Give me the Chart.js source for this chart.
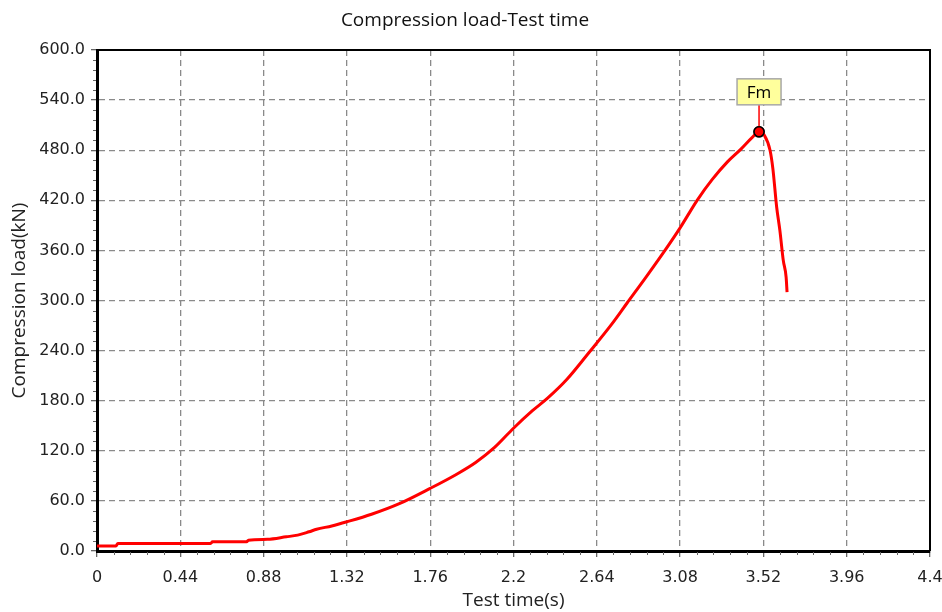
<!DOCTYPE html>
<html>
<head>
<meta charset="utf-8">
<script src="https://cdn.jsdelivr.net/npm/chart.js@4.4.0/dist/chart.umd.min.js"></script>
<style>
  body { margin: 0; background: #fff; }
  canvas { display: block; }
</style>
</head>
<body>
<canvas id="graph" width="942" height="612"></canvas>
<script>
// data
const testTime = [0, 0.1, 0.11, 0.6, 0.61, 0.79, 0.8, 0.9, 1.0, 1.06, 1.12, 1.16, 1.24, 1.32, 1.45, 1.6, 1.76, 1.9, 2.0, 2.1, 2.2, 2.3, 2.38, 2.48, 2.6, 2.72, 2.8, 2.9, 3.0, 3.08, 3.17, 3.25, 3.33, 3.4, 3.46, 3.497, 3.525, 3.555, 3.57, 3.59, 3.607, 3.625, 3.64, 3.645];
const compLoad = [6, 6, 9, 9, 11, 11, 13, 14, 17, 19, 23, 26, 30, 35, 44, 57, 75, 92, 106, 124, 147, 168, 183, 205, 238, 272, 297, 328, 360, 387, 420, 445, 466, 481, 495, 502, 498, 480, 458, 412, 384, 348, 328, 310];
const peakTime = 3.497;
const peakLoad = 502;
const peakLabel = 'Fm';

const xTicks = [0, 0.44, 0.88, 1.32, 1.76, 2.2, 2.64, 3.08, 3.52, 3.96, 4.4];
const xTickLabels = ['0', '0.44', '0.88', '1.32', '1.76', '2.2', '2.64', '3.08', '3.52', '3.96', '4.4'];
const yTicks = [0, 60, 120, 180, 240, 300, 360, 420, 480, 540, 600];
const yTickLabels = ['0.0', '60.0', '120.0', '180.0', '240.0', '300.0', '360.0', '420.0', '480.0', '540.0', '600.0'];

const FONT = 'DejaVu Sans';
const TITLE_FONT = 'Open Sans';

// top/right frame and the small ticks between labels
const framePlugin = {
    id: 'frame',
    afterDraw(chart) {
        const ctx = chart.ctx;
        const a = chart.chartArea;
        const xs = chart.scales.x;
        const ys = chart.scales.y;
        ctx.save();
        ctx.strokeStyle = '#000';
        ctx.lineWidth = 2;
        ctx.beginPath();
        ctx.moveTo(a.left, a.top);
        ctx.lineTo(a.right, a.top);
        ctx.lineTo(a.right, a.bottom);
        ctx.stroke();

        ctx.strokeStyle = '#666';
        ctx.lineWidth = 1;
        ctx.beginPath();
        for (let i = 0; i < xTicks.length - 1; i++) {
            for (let k = 1; k < 5; k++) {
                let px = Math.round(xs.getPixelForValue(xTicks[i] + (xTicks[i + 1] - xTicks[i]) * k / 5)) + 0.5;
                ctx.moveTo(px, a.bottom + 1);
                ctx.lineTo(px, a.bottom + 4);
            }
        }
        for (let i = 0; i < yTicks.length - 1; i++) {
            for (let k = 1; k < 5; k++) {
                let py = Math.round(ys.getPixelForValue(yTicks[i] + (yTicks[i + 1] - yTicks[i]) * k / 5)) + 0.5;
                ctx.moveTo(a.left - 1, py);
                ctx.lineTo(a.left - 4, py);
            }
        }
        ctx.stroke();
        ctx.restore();
    }
};

// "Fm" flag above the peak point
const peakPlugin = {
    id: 'peakFlag',
    afterDatasetsDraw(chart) {
        const ctx = chart.ctx;
        const pt = chart.getDatasetMeta(1).data[0];
        const bw = 44, bh = 26;
        const bx = pt.x - bw / 2;
        const by = pt.y - 27 - bh;
        ctx.save();
        ctx.strokeStyle = '#ff0000';
        ctx.lineWidth = 1.5;
        ctx.beginPath();
        ctx.moveTo(pt.x, pt.y);
        ctx.lineTo(pt.x, by + bh);
        ctx.stroke();
        ctx.fillStyle = '#ffff9c';
        ctx.fillRect(bx, by, bw, bh);
        ctx.strokeStyle = '#a8a8a8';
        ctx.lineWidth = 1.5;
        ctx.strokeRect(bx, by, bw, bh);
        ctx.fillStyle = '#000';
        ctx.font = '17px "' + TITLE_FONT + '"';
        ctx.textAlign = 'center';
        ctx.textBaseline = 'middle';
        ctx.fillText(peakLabel, pt.x, by + bh / 2 + 1);
        ctx.restore();
        pt.draw(ctx);
    }
};

new Chart(document.getElementById('graph'), {
    type: 'line',
    data: {
        datasets: [{
            data: testTime.map((t, i) => ({ x: t, y: compLoad[i] })),
            borderColor: '#ff0000',
            borderWidth: 3,
            pointRadius: 0,
            cubicInterpolationMode: 'monotone'
        }, {
            data: [{ x: peakTime, y: peakLoad }],
            showLine: false,
            pointRadius: 5,
            pointBackgroundColor: '#ff0000',
            pointBorderColor: '#000',
            pointBorderWidth: 1.5
        }]
    },
    options: {
        responsive: false,
        animation: false,
        devicePixelRatio: 1,
        layout: { padding: { top: 0, right: 12, left: 0, bottom: 0 } },
        plugins: {
            legend: { display: false },
            tooltip: { enabled: false },
            title: {
                display: true,
                text: 'Compression load-Test time',
                color: '#111',
                font: { family: TITLE_FONT, size: 19, weight: 'normal' },
                padding: { top: 9, bottom: 18.2 }
            }
        },
        scales: {
            x: {
                type: 'linear',
                min: 0,
                max: 4.4,
                afterBuildTicks: (s) => { s.ticks = xTicks.map(v => ({ value: v })); },
                afterFit: (s) => { s.height = 61; s.paddingLeft = 0; s.paddingRight = 0; },
                ticks: {
                    callback: (v, i) => xTickLabels[i],
                    color: '#222',
                    font: { family: FONT, size: 16 },
                    padding: 11,
                    maxRotation: 0,
                    autoSkip: false
                },
                grid: { color: '#8a8a8a', lineWidth: 1.3, tickLength: 6, tickColor: '#666', tickBorderDash: [] },
                border: { display: true, color: '#000', width: 3, dash: [6, 4] },
                title: {
                    display: true,
                    text: 'Test time(s)',
                    color: '#222',
                    font: { family: TITLE_FONT, size: 19 },
                    padding: { top: 0, bottom: 0 }
                }
            },
            y: {
                type: 'linear',
                min: 0,
                max: 600,
                afterBuildTicks: (s) => { s.ticks = yTicks.map(v => ({ value: v })); },
                afterFit: (s) => { s.width = 97; },
                ticks: {
                    callback: (v, i) => yTickLabels[i],
                    color: '#222',
                    font: { family: FONT, size: 16 },
                    padding: 6,
                    autoSkip: false
                },
                grid: { color: '#8a8a8a', lineWidth: 1.3, tickLength: 6, tickColor: '#666', tickBorderDash: [] },
                border: { display: true, color: '#000', width: 3, dash: [6, 4] },
                title: {
                    display: true,
                    text: 'Compression load(kN)',
                    color: '#222',
                    font: { family: TITLE_FONT, size: 19 },
                    padding: { top: 8, bottom: 0 }
                }
            }
        }
    },
    plugins: [framePlugin, peakPlugin]
});
</script>
</body>
</html>
